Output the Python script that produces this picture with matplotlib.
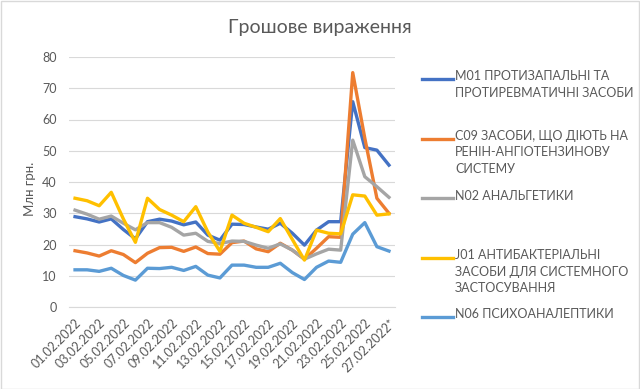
import numpy as np
import matplotlib
matplotlib.use("Agg")
import matplotlib.pyplot as plt
from matplotlib.lines import Line2D
from matplotlib.patches import Rectangle

plt.rcParams['font.family'] = ['Lato', 'DejaVu Sans']

# дані
dates = ["%02d.02.2022" % d for d in range(1, 27)] + ["27.02.2022*"]

m01 = [28.9, 28.2, 27.2, 28.2, 24.8, 21.8, 27.3, 28.1, 27.5, 26.3, 27.2, 23.0, 21.4, 26.5,
       26.4, 25.6, 24.9, 26.8, 23.6, 19.8, 24.6, 27.3, 27.3, 65.7, 51.0, 50.2, 45.4]
c09 = [18.0, 17.3, 16.3, 18.0, 16.8, 14.2, 17.2, 19.0, 19.1, 17.8, 19.2, 17.1, 16.9, 20.6,
       21.1, 18.6, 17.7, 20.4, 18.2, 15.3, 18.8, 22.5, 22.3, 75.0, 54.0, 34.8, 30.0]
n02 = [31.0, 29.7, 28.1, 29.1, 26.8, 24.7, 27.0, 27.0, 25.5, 23.0, 23.6, 21.0, 20.3, 21.1,
       21.0, 19.8, 18.8, 20.2, 18.2, 15.3, 17.0, 18.5, 18.2, 53.4, 41.7, 38.5, 35.1]
j01 = [34.8, 34.0, 32.4, 36.7, 28.2, 20.7, 34.8, 31.2, 29.4, 27.3, 32.1, 24.0, 17.8, 29.4,
       26.8, 25.5, 24.1, 28.3, 21.6, 15.0, 24.6, 23.6, 23.4, 35.9, 35.5, 29.4, 29.8]
n06 = [11.9, 11.9, 11.4, 12.4, 10.1, 8.6, 12.4, 12.3, 12.7, 11.7, 13.0, 10.2, 9.3, 13.4,
       13.4, 12.7, 12.7, 14.0, 11.0, 8.8, 12.7, 14.7, 14.3, 23.3, 27.0, 19.3, 17.9]

series = [m01, c09, n02, j01, n06]
labels = ["M01 ПРОТИЗАПАЛЬНІ ТА\nПРОТИРЕВМАТИЧНІ ЗАСОБИ",
          "C09 ЗАСОБИ, ЩО ДІЮТЬ НА\nРЕНІН-АНГІОТЕНЗИНОВУ\nСИСТЕМУ",
          "N02 АНАЛЬГЕТИКИ",
          "J01 АНТИБАКТЕРІАЛЬНІ\nЗАСОБИ ДЛЯ СИСТЕМНОГО\nЗАСТОСУВАННЯ",
          "N06 ПСИХОАНАЛЕПТИКИ"]
colors = ["#4472C4", "#ED7D31", "#A5A5A5", "#FFC000", "#5B9BD5"]

W, H = 640, 389
fig = plt.figure(figsize=(6.4, 3.89), dpi=100)
ax = fig.add_axes([69 / W, 1 - 307 / H, (395 - 69) / W, (307 - 57) / H])

x = np.arange(len(dates))
for s, c in zip(series, colors):
    ax.plot(x, s, color=c, lw=2.4, solid_joinstyle='round')

ax.set_xlim(-0.5, len(dates) - 0.5)
ax.set_ylim(0, 80)
ax.set_yticks(range(0, 81, 10))
ax.yaxis.grid(True, color="#D9D9D9", lw=0.8)
ax.set_axisbelow(True)
for sp in ["top", "right", "left"]:
    ax.spines[sp].set_visible(False)
ax.spines["bottom"].set_color("#D9D9D9")

ax.set_xticks(x[::2])
ax.set_xticklabels(dates[::2], rotation=45, ha="right", rotation_mode="anchor")
ax.tick_params(axis="both", length=0, labelsize=9, labelcolor="#595959")
ax.tick_params(axis="x", pad=7)
ax.tick_params(axis="y", pad=9)

ax.set_ylabel("Млн грн.", fontsize=9.5, color="#595959")
ax.yaxis.set_label_coords((36 - 69) / (395 - 69), (307 - 189) / (307 - 57))

fig.text(320 / W, 1 - 28 / H, "Грошове вираження", ha="center", va="center",
         fontsize=14, color="#595959")

# легенда
for k, (lab, c) in enumerate(zip(labels, colors)):
    yy = 1 - (79 + 59.5 * k) / H
    fig.add_artist(Line2D([422 / W, 453 / W], [yy, yy], color=c, lw=2.4))
    fig.text(455 / W, yy + 8.5 / H, lab, ha="left", va="top", fontsize=9,
             color="#595959", linespacing=1.45)

fig.add_artist(Rectangle((0.5 / W, 0.5 / H), 1 - 1.5 / W, 1 - 1.5 / H,
                         transform=fig.transFigure, fill=False,
                         edgecolor="#D9D9D9", lw=1))

fig.savefig("out.png", dpi=100)
